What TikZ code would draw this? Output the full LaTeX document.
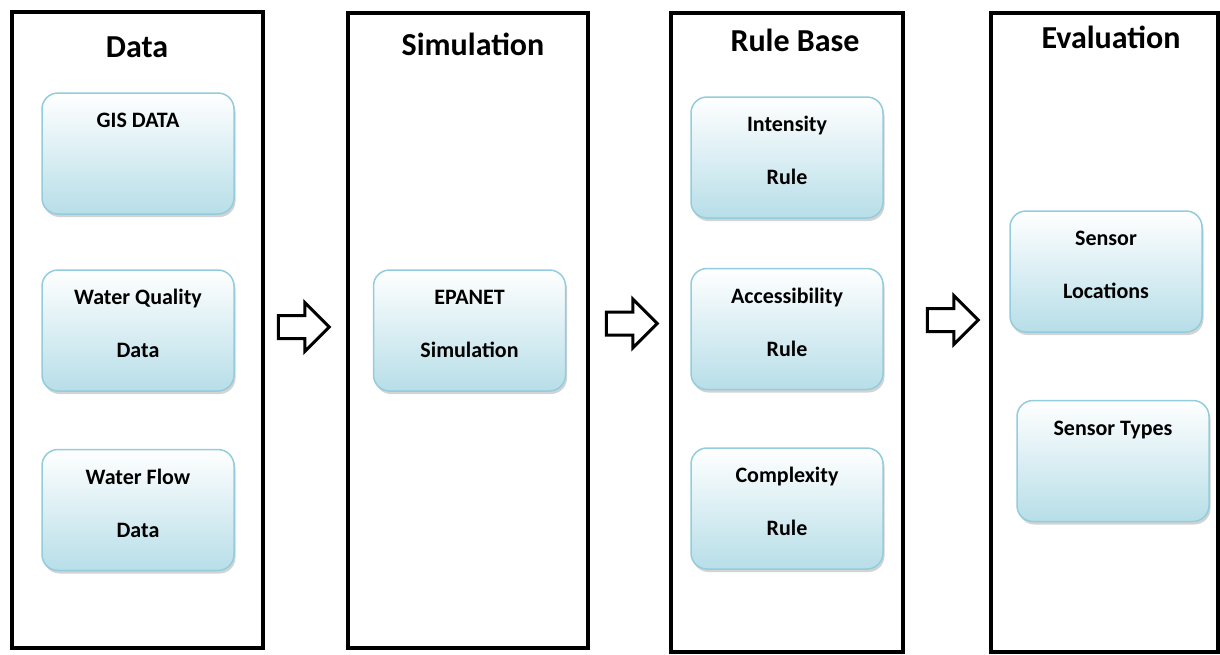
\documentclass[tikz,border=0pt]{standalone}
\usepackage{fontspec}
\setmainfont{Carlito}
\usetikzlibrary{shapes.arrows,shadows}
\definecolor{boxline}{RGB}{147,205,221}
\definecolor{boxfill}{RGB}{183,222,232}
\begin{document}
\begin{tikzpicture}[x=1pt,y=-1pt,
		stage/.style={draw,line width=4pt,inner sep=0pt},
		stagetitle/.style={font=\fontsize{32}{38}\selectfont\bfseries},
		infobox/.style={draw=boxline,line width=1.5pt,rounded corners=16pt,top color=white,bottom color=boxfill,
			minimum width=192pt,minimum height=121pt,align=center,font=\fontsize{22}{53}\selectfont\bfseries,
			text height=68pt,text depth=14pt,drop shadow={shadow xshift=1.5pt,shadow yshift=-3pt,opacity=.35}},
		flowarrow/.style={single arrow,draw,line width=3pt,minimum height=51pt,minimum width=47pt,
			single arrow head extend=13pt,inner xsep=0pt,inner ysep=10pt,text height=0pt,text depth=0pt}]
			\useasboundingbox (0,0) rectangle (1220,654);
			\node[stage,minimum width=250.5pt,minimum height=636pt] (data) at (137.25,330) {};
			\node[stage,minimum width=240pt,minimum height=635.5pt] (simulation) at (468,330.25) {};
			\node[stage,minimum width=232.5pt,minimum height=638.5pt] (rulebase) at (786.75,332.25) {};
			\node[stage,minimum width=227pt,minimum height=638.5pt] (evaluation) at (1104,332.25) {};
			\node[stagetitle] (datatitle) at (137,47) {Data};
			\node[stagetitle] (simtitle) at (473,44) {Simulation};
			\node[stagetitle] (ruletitle) at (795,40) {Rule Base};
			\node[stagetitle] (evaltitle) at (1111,37) {Evaluation};
			\node[infobox] (gis) at (138,153.5) {GIS DATA\\{}};
			\node[infobox] (quality) at (138,330.5) {Water Quality\\Data};
			\node[infobox] (flow) at (138,510) {Water Flow\\Data};
			\node[infobox] (epanet) at (469.5,330.5) {EPANET\\Simulation};
			\node[infobox] (intensity) at (787,157.5) {Intensity\\Rule};
			\node[infobox] (access) at (787,329) {Accessibility\\Rule};
			\node[infobox] (complex) at (787,508.5) {Complexity\\Rule};
			\node[infobox] (locations) at (1106,271.5) {Sensor\\Locations};
			\node[infobox] (types) at (1113,461) {Sensor Types\\{}};
			\node[flowarrow] (arrowa) at (298,327) {};
			\node[flowarrow] (arrowb) at (626,323.5) {};
			\node[flowarrow] (arrowc) at (947,320) {};
		\end{tikzpicture}
\end{document}
